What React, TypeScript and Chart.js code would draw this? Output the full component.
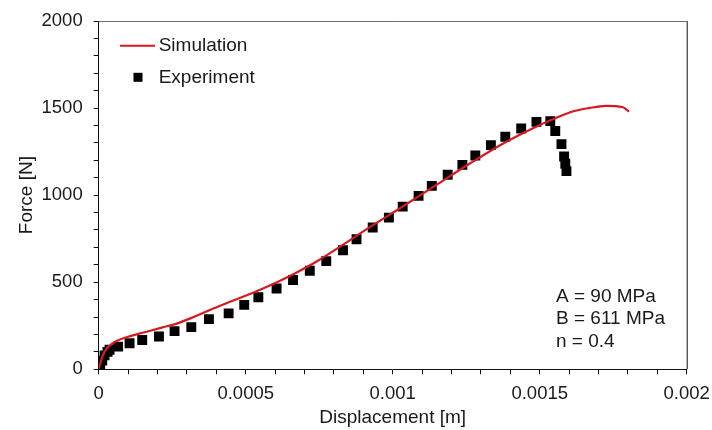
import React, { useEffect, useRef } from "react";
import { Chart, registerables } from "chart.js";

Chart.register(...registerables);

// Simulation curve (displacement [m], force [N])
const simX = [0, 0.00001, 0.00002, 0.000033, 0.000055, 0.0001, 0.000157, 0.000214, 0.00027, 0.000327, 0.000384, 0.00044, 0.000497, 0.000553, 0.00061, 0.000667, 0.0007, 0.00075, 0.000808, 0.000921, 0.001034, 0.001148, 0.001261, 0.001385, 0.0014985, 0.001555, 0.001612, 0.001668, 0.001725, 0.001781, 0.001804];
const simF = [0, 60, 100, 130, 157, 187, 213, 239, 265, 303, 345, 383, 421, 460, 503, 550, 580, 628, 690, 815, 935, 1058, 1180, 1305, 1402, 1443, 1480, 1500, 1513, 1506, 1480];

// Experiment points
const expX = [0, 0.000005, 0.000012, 0.00002, 0.00003, 0.000037, 0.000066, 0.000105, 0.000148, 0.000205, 0.000258, 0.000315, 0.000375, 0.000442, 0.000495, 0.000543, 0.000605, 0.000661, 0.000718, 0.000774, 0.000831, 0.000877, 0.000932, 0.000987, 0.001034, 0.001088, 0.001133, 0.001187, 0.001237, 0.001281, 0.001334, 0.001383, 0.001437, 0.001489, 0.001536, 0.001553, 0.001574, 0.001583, 0.001587, 0.001591];
const expF = [0, 20, 50, 80, 100, 112, 130, 150, 168, 188, 219, 242, 288, 321, 370, 414, 464, 513, 566, 621, 684, 747, 814, 871, 934, 996, 1053, 1117, 1174, 1228, 1287, 1335, 1383, 1421, 1425, 1368, 1293, 1222, 1180, 1138];

const xMajor = [0, 0.0005, 0.001, 0.0015, 0.002];
const yMajor = [0, 500, 1000, 1500, 2000];
const legendLabels = ["Simulation", "Experiment"];
const annotationLines = ["A = 90 MPa", "B = 611 MPa", "n = 0.4"];

const FONT = "'Liberation Sans', Arial, sans-serif";
const RED = "#d7191f";
const TEXT = "#1a1a1a";

const isMajor = (v: number, list: number[]) => list.some((m) => Math.abs(m - v) < 1e-9 * Math.max(1, Math.abs(m)) + 1e-12);

export default function App() {
  const ref = useRef<HTMLCanvasElement | null>(null);

  useEffect(() => {
    if (!ref.current) return;
    document.body.style.margin = "0";

    const overlay = {
      id: "overlay",
      afterDraw(chart: any) {
        const { ctx, chartArea } = chart;
        const { left, top, right, bottom } = chartArea;
        ctx.save();
        // frame top & right
        ctx.lineWidth = 1;
        ctx.strokeStyle = "#6e6e6e";
        ctx.beginPath();
        ctx.moveTo(left, top + 0.5);
        ctx.lineTo(right, top + 0.5);
        ctx.stroke();
        ctx.strokeStyle = "#111";
        ctx.beginPath();
        ctx.moveTo(right + 0.5, top);
        ctx.lineTo(right + 0.5, bottom);
        ctx.stroke();

        // legend
        ctx.font = `19px ${FONT}`;
        ctx.fillStyle = TEXT;
        ctx.textBaseline = "middle";
        ctx.textAlign = "left";
        ctx.strokeStyle = RED;
        ctx.lineWidth = 2;
        ctx.beginPath();
        ctx.moveTo(left + 21.3, top + 24.7);
        ctx.lineTo(left + 56.3, top + 24.7);
        ctx.stroke();
        ctx.fillText(legendLabels[0], left + 60, top + 25);
        ctx.fillStyle = "#000";
        ctx.fillRect(left + 39.3 - 4.5, top + 56.3 - 4.5, 9, 9);
        ctx.fillStyle = TEXT;
        ctx.fillText(legendLabels[1], left + 60, top + 56.5);

        // annotation
        annotationLines.forEach((t, i) => {
          ctx.fillText(t, left + 457.3, top + 275.7 + i * 22.5);
        });
        ctx.restore();
      },
    };

    const chart = new Chart(ref.current, {
      type: "scatter",
      data: {
        datasets: [
          {
            label: legendLabels[1],
            data: expX.map((x, i) => ({ x, y: expF[i] })),
            pointStyle: "rect",
            pointRadius: 7,
            pointBackgroundColor: "#000",
            pointBorderWidth: 0,
            showLine: false,
            order: 2,
          },
          {
            label: legendLabels[0],
            data: simX.map((x, i) => ({ x, y: simF[i] })),
            showLine: true,
            borderColor: RED,
            borderWidth: 2.2,
            pointRadius: 0,
            cubicInterpolationMode: "monotone",
            order: 1,
          } as any,
        ],
      },
      options: {
        animation: false,
        responsive: true,
        maintainAspectRatio: false,
        layout: { padding: { top: 21, right: 25.3, left: 15, bottom: 1 } },
        plugins: { legend: { display: false }, tooltip: { enabled: false } },
        scales: {
          x: {
            type: "linear",
            min: 0,
            max: 0.002,
            afterFit: (s: any) => {
              s.height = 59.7;
              s.paddingLeft = 0;
              s.paddingRight = 0;
            },
            ticks: {
              stepSize: 0.0001,
              autoSkip: false,
              maxRotation: 0,
              padding: 9,
              color: TEXT,
              font: { family: FONT, size: 18.5 },
              callback: (v: any) => (isMajor(Number(v), xMajor) ? String(Math.round(Number(v) * 1e4) / 1e4) : ""),
            },
            grid: { drawOnChartArea: false, drawTicks: true, tickLength: 5, color: "#111" },
            border: { display: true, color: "#111", width: 1 },
            title: { display: true, text: "Displacement [m]", color: TEXT, font: { family: FONT, size: 19 }, padding: 0 },
          },
          y: {
            type: "linear",
            min: 0,
            max: 2000,
            afterFit: (s: any) => {
              s.width = 83.7;
              s.paddingTop = 0;
              s.paddingBottom = 0;
            },
            ticks: {
              stepSize: 100,
              autoSkip: false,
              padding: 11,
              color: TEXT,
              font: { family: FONT, size: 18.5 },
              callback: (v: any) => (isMajor(Number(v), yMajor) ? String(Number(v)) : ""),
            },
            grid: { drawOnChartArea: false, drawTicks: true, tickLength: 5, color: "#111" },
            border: { display: true, color: "#111", width: 1 },
            title: { display: true, text: "Force [N]", color: TEXT, font: { family: FONT, size: 19 }, padding: 0 },
          },
        },
      },
      plugins: [overlay],
    });
    return () => chart.destroy();
  }, []);

  return (
    <div style={{ position: "absolute", left: 0, top: 0, width: 712, height: 430 }}>
      <canvas ref={ref} />
    </div>
  );
}
